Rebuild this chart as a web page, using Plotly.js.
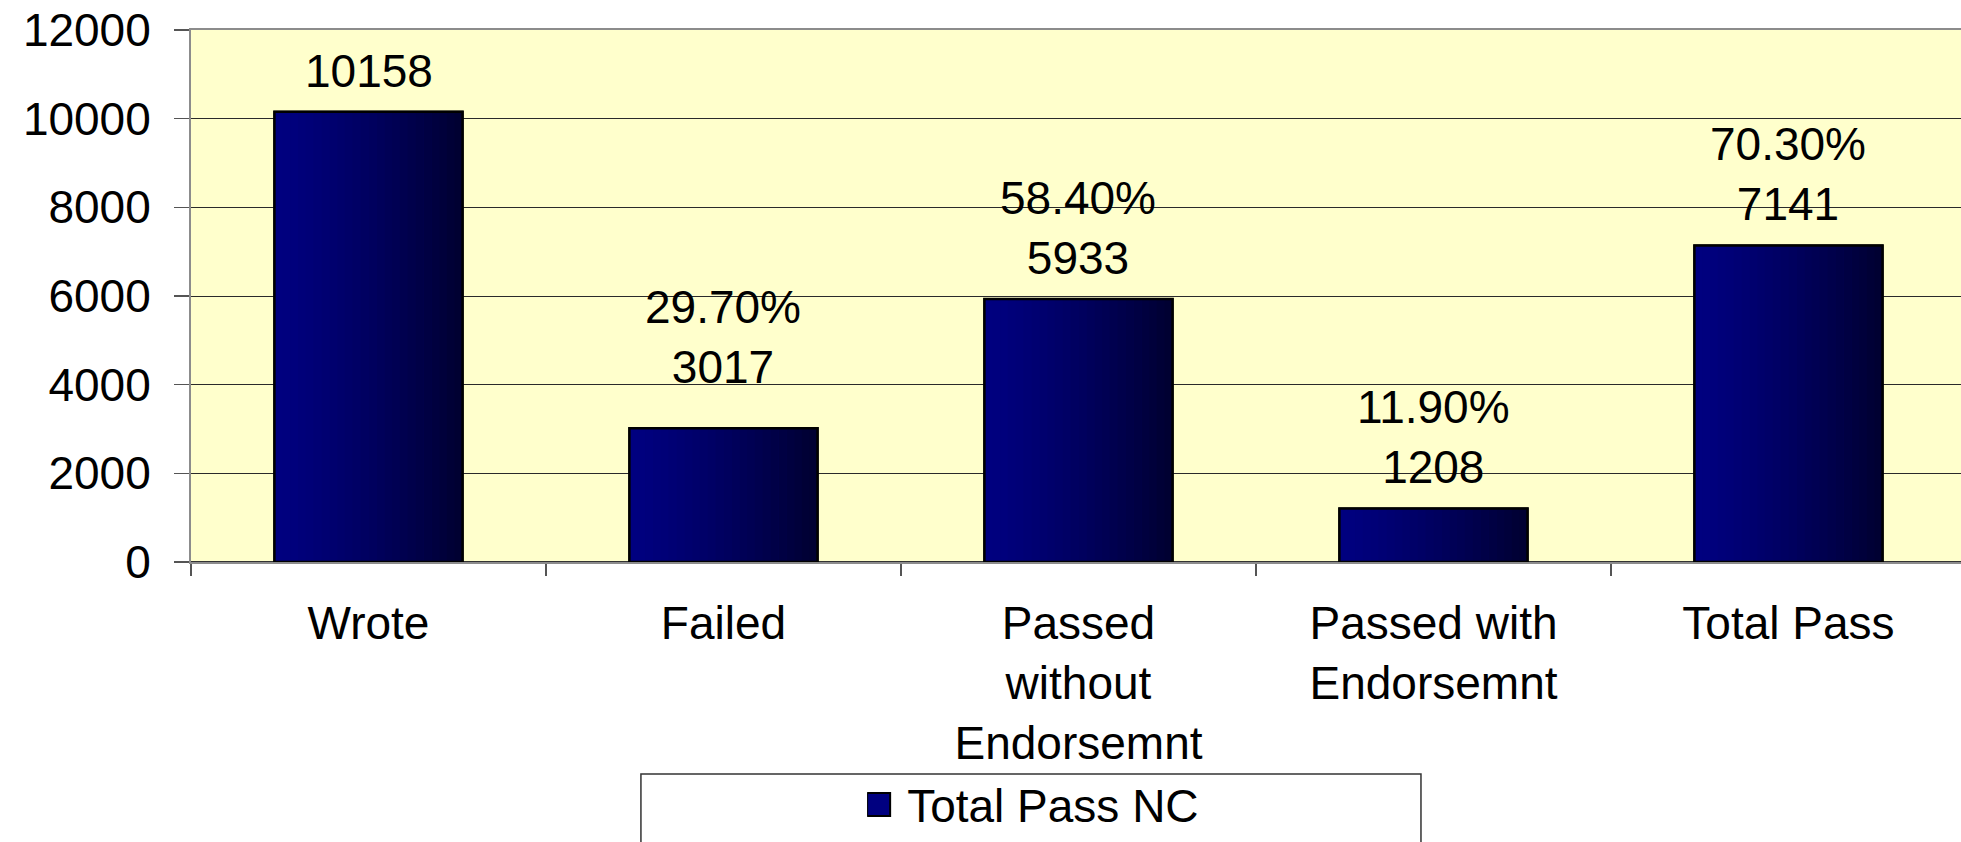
<!DOCTYPE html>
<html>
<head>
<meta charset="utf-8">
<script src="https://cdn.plot.ly/plotly-3.0.1.min.js"></script>
<style>html,body{margin:0;padding:0;background:#fff;}#chart{width:1961px;height:842px;}</style>
</head>
<body>
<div id="chart"></div>
<script>
// ---- data ----
const categories = ["Wrote", "Failed", "Passed<br>without<br>Endorsemnt", "Passed with<br>Endorsemnt", "Total Pass"];
const values = [10158, 3017, 5933, 1208, 7141];
const percentLabels = ["", "29.70%", "58.40%", "11.90%", "70.30%"];
const seriesName = "Total Pass NC";

// ---- styling ----
const FONT = "Liberation Sans, Arial, sans-serif";
const FS = 46;
const barWidth = 0.53;
const nSlices = 24;
const labelExtraShift = [0, 20, 0, 0, 0];

function sliceColor(t) {
  const e = Math.pow(t, 1.3);
  const b = Math.round(128 - e * 80);
  return "rgb(0,0," + b + ")";
}

const traces = [];
traces.push({
  type: "bar", x: categories, y: values, name: seriesName,
  width: barWidth,
  marker: { color: "#000080", line: { color: "#000000", width: 2 } },
  hoverinfo: "skip", showlegend: true
});
for (let i = 0; i < nSlices; i++) {
  const w = barWidth / nSlices;
  traces.push({
    type: "bar", x: categories, y: values,
    width: w * 1.05, offset: -barWidth / 2 + i * w,
    marker: { color: sliceColor((i + 0.5) / nSlices), line: { width: 0 } },
    hoverinfo: "skip", showlegend: false
  });
}
traces.push({
  type: "bar", x: categories, y: values,
  width: barWidth,
  marker: { color: "rgba(0,0,0,0)", line: { color: "#000000", width: 2.5 } },
  hoverinfo: "skip", showlegend: false
});

const annotations = categories.map((c, i) => ({
  x: c, y: values[i], xref: "x", yref: "y",
  text: percentLabels[i] ? percentLabels[i] + "<br>" + values[i] : String(values[i]),
  showarrow: false, yanchor: "bottom", xanchor: "center",
  yshift: 13 + labelExtraShift[i],
  font: { family: FONT, size: FS, color: "#000" }
}));

const layout = {
  width: 1961, height: 842,
  margin: { l: 191, r: 0, t: 30, b: 280, pad: 0 },
  paper_bgcolor: "#ffffff",
  plot_bgcolor: "#FFFFCC",
  barmode: "overlay",
  font: { family: FONT, size: FS, color: "#000" },
  xaxis: {
    type: "category",
    range: [-0.5, 4.486],
    showline: true, linecolor: "#8c8c8c", linewidth: 2, mirror: true,
    ticks: "outside", tickson: "boundaries", ticklen: 12, tickcolor: "#555", tickwidth: 1.5,
    showgrid: false,
    tickfont: { family: FONT, size: FS, color: "#000" },
    ticklabelstandoff: 20,
    fixedrange: true
  },
  yaxis: {
    range: [0, 12000], dtick: 2000, tick0: 0, tickformat: "d",
    showline: true, linecolor: "#8c8c8c", linewidth: 2,
    ticks: "outside", ticklen: 15, tickcolor: "#555", tickwidth: 1.5,
    showgrid: true, gridcolor: "#2a2a2a", gridwidth: 1,
    zeroline: true, zerolinecolor: "#333", zerolinewidth: 1.5,
    tickfont: { family: FONT, size: FS, color: "#000" },
    ticklabelstandoff: 14,
    fixedrange: true
  },
  showlegend: true,
  legend: {
    orientation: "h",
    x: 0.382, xanchor: "left",
    y: -0.455, yanchor: "middle",
    bgcolor: "rgba(0,0,0,0)", borderwidth: 0,
    font: { family: FONT, size: FS, color: "#000" }
  },
  shapes: [{
    type: "rect", xref: "paper", yref: "paper",
    x0: 0.2542, x1: 0.6949, y0: -0.3985, y1: -0.7,
    line: { color: "#333", width: 1.5 }, fillcolor: "rgba(0,0,0,0)", layer: "below"
  }],
  annotations: annotations
};

Plotly.newPlot("chart", traces, layout, { displayModeBar: false, staticPlot: true }).then(function (gd) {
  // enlarge the legend swatch to match the reference's bigger square
  gd.querySelectorAll(".legend .legendpoints path").forEach(function (p) {
    p.setAttribute("d", "M3,12H-20V-11H3Z");
    p.style.strokeWidth = "2px";
  });
});
</script>
</body>
</html>
